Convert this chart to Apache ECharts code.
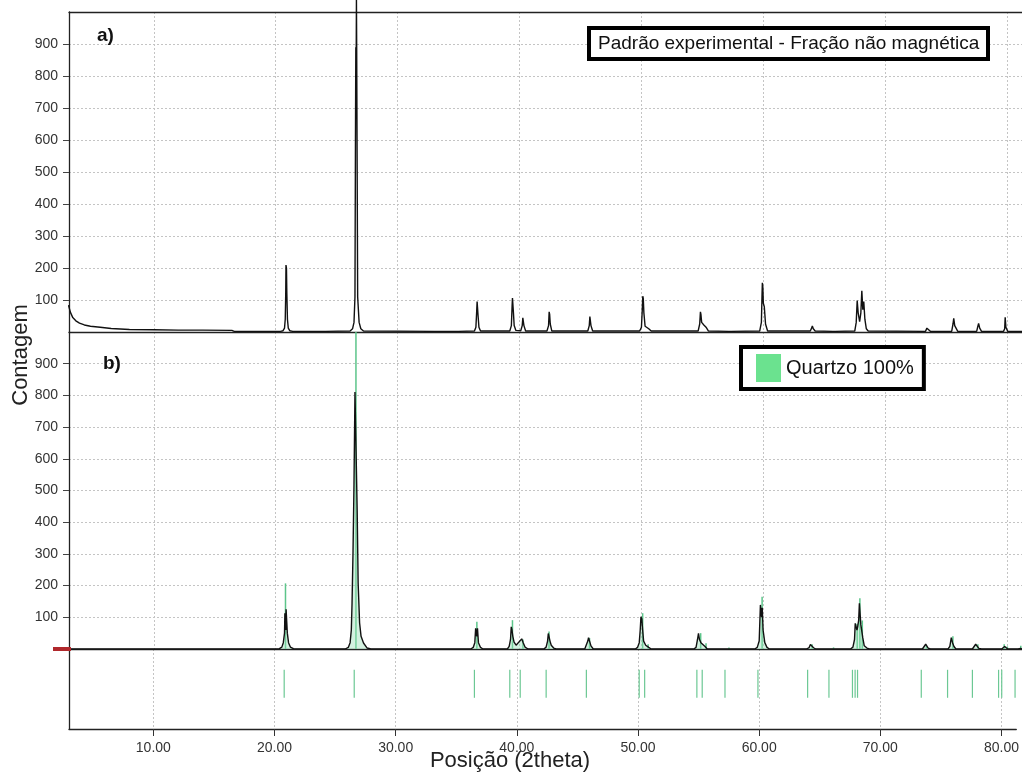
<!DOCTYPE html>
<html>
<head>
<meta charset="utf-8">
<script src="https://cdn.jsdelivr.net/npm/echarts@6/dist/echarts.min.js"></script>
<style>
  html, body { margin: 0; padding: 0; background: #fff; }
  #chart { width: 1022px; height: 772px; }
</style>
</head>
<body>
<div id="chart"></div>
<script>
// 2theta range and tick values
const xMin = 3.04;
const xMax = 81.22;
const xTicks = [10, 20, 30, 40, 50, 60, 70, 80];
const yTicks = [100, 200, 300, 400, 500, 600, 700, 800, 900];

// a) measured pattern, [2theta, counts]
const patternA = [
  [3.0, 84], [3.15, 62], [3.35, 45], [3.6, 35], [3.9, 28], [4.3, 22], [4.8, 18], [5.6, 15], [6.5, 11], [8.0, 8],
  [10.0, 7], [12.0, 6], [14.0, 6], [16.4, 5], [16.6, 2], [18.0, 2], [20.4, 2],
  [20.6, 4], [20.72, 12], [20.78, 40], [20.82, 120], [20.84, 209], [20.88, 200], [20.91, 120], [20.96, 40], [21.03, 12], [21.15, 4], [21.4, 2],
  [23.9, 2], [24.0, 6], [24.1, 2],
  [26.1, 3], [26.3, 10], [26.42, 30], [26.5, 110], [26.54, 600], [26.57, 890], [26.6, 850], [26.62, 1040], [26.64, 890], [26.67, 600], [26.72, 110], [26.84, 30], [26.98, 10], [27.2, 3],
  [33.0, 2], [35.0, 2],
  [36.3, 3], [36.42, 15], [36.48, 60], [36.52, 95], [36.56, 90], [36.6, 50], [36.67, 15], [36.8, 3],
  [39.2, 3], [39.33, 20], [39.39, 80], [39.42, 106], [39.46, 100], [39.5, 60], [39.56, 20], [39.7, 5],
  [40.1, 4], [40.22, 20], [40.27, 44], [40.31, 42], [40.36, 20], [40.5, 3],
  [42.25, 3], [42.38, 20], [42.43, 63], [42.47, 55], [42.52, 25], [42.65, 3],
  [45.6, 3], [45.72, 20], [45.77, 48], [45.81, 45], [45.86, 20], [46.0, 3],
  [49.85, 3], [50.0, 15], [50.07, 70], [50.11, 112], [50.15, 105], [50.2, 60], [50.3, 18], [50.6, 10], [50.8, 3],
  [54.65, 3], [54.78, 25], [54.84, 63], [54.88, 55], [54.94, 30], [55.12, 22], [55.3, 15], [55.5, 3],
  [57.15, 2], [57.24, 5], [57.35, 2],
  [59.7, 3], [59.84, 30], [59.89, 110], [59.92, 154], [59.96, 140], [60.0, 90], [60.08, 79], [60.18, 25], [60.35, 3],
  [63.85, 3], [63.96, 12], [64.02, 19], [64.1, 10], [64.25, 3],
  [65.7, 2], [65.8, 5], [65.9, 2],
  [67.5, 3], [67.62, 30], [67.7, 98], [67.78, 60], [67.9, 32], [68.0, 60], [68.08, 129], [68.16, 70], [68.24, 95], [68.33, 40], [68.45, 10], [68.6, 3],
  [73.3, 2], [73.42, 12], [73.48, 17], [73.56, 8], [73.7, 2],
  [75.45, 2], [75.56, 25], [75.62, 43], [75.7, 20], [75.8, 15], [75.95, 2],
  [77.5, 2], [77.6, 18], [77.66, 27], [77.75, 12], [77.9, 2],
  [79.7, 2], [79.8, 10], [79.84, 46], [79.9, 15], [80.05, 2], [81.22, 2]
];

// b) processed pattern, [2theta, counts]
const patternB = [
  [3.0, 0], [20.1, 0],
  [20.3, 1], [20.5, 6], [20.62, 20], [20.72, 50], [20.75, 113], [20.79, 113], [20.82, 60], [20.85, 125], [20.89, 125], [20.95, 50], [21.05, 20], [21.2, 6], [21.45, 1], [21.6, 0],
  [25.7, 0], [25.95, 5], [26.1, 20], [26.2, 60], [26.26, 144], [26.34, 307], [26.42, 520], [26.5, 811], [26.62, 811], [26.68, 438], [26.76, 208], [26.88, 82], [27.0, 40], [27.2, 19], [27.5, 3], [27.8, 0],
  [36.0, 0], [36.2, 5], [36.33, 20], [36.4, 65], [36.46, 65], [36.5, 40], [36.55, 65], [36.63, 20], [36.8, 5], [37.0, 0],
  [39.0, 0], [39.15, 8], [39.26, 30], [39.32, 70], [39.38, 60], [39.45, 40], [39.55, 22], [39.72, 12], [39.9, 20], [40.02, 25], [40.18, 32], [40.3, 20], [40.45, 6], [40.7, 0],
  [42.0, 0], [42.18, 6], [42.3, 25], [42.36, 49], [42.44, 49], [42.5, 25], [42.6, 12], [42.8, 3], [43.0, 0],
  [45.35, 0], [45.5, 6], [45.6, 25], [45.66, 36], [45.76, 36], [45.86, 10], [46.05, 0],
  [49.5, 0], [49.68, 5], [49.82, 20], [49.9, 60], [49.96, 102], [50.03, 95], [50.1, 60], [50.18, 25], [50.35, 12], [50.6, 5], [50.8, 0],
  [54.3, 0], [54.48, 5], [54.6, 30], [54.68, 49], [54.76, 30], [54.88, 20], [55.02, 15], [55.22, 8], [55.4, 0],
  [59.3, 0], [59.5, 5], [59.66, 25], [59.76, 139], [59.82, 139], [59.86, 100], [59.91, 130], [59.98, 60], [60.12, 20], [60.3, 5], [60.5, 0],
  [63.55, 0], [63.75, 4], [63.86, 14], [63.94, 18], [64.02, 12], [64.12, 4], [64.3, 0],
  [67.15, 0], [67.35, 6], [67.48, 30], [67.54, 81], [67.62, 81], [67.68, 60], [67.74, 70], [67.82, 90], [67.88, 144], [67.96, 144], [68.0, 76], [68.08, 76], [68.16, 35], [68.28, 10], [68.5, 3], [68.7, 0],
  [73.05, 0], [73.2, 6], [73.32, 15], [73.42, 12], [73.52, 3], [73.7, 0],
  [75.15, 0], [75.3, 8], [75.42, 36], [75.52, 20], [75.64, 8], [75.8, 0],
  [77.15, 0], [77.3, 5], [77.42, 15], [77.52, 10], [77.68, 2], [77.9, 0],
  [79.55, 0], [79.7, 6], [79.8, 8], [79.9, 3], [80.05, 0], [80.9, 0], [81.0, 6], [81.1, 2], [81.22, 0]
];

// Quartz reference reflections: positions (2theta) and relative heights in panel b
const refPos = [20.8, 26.58, 36.5, 39.42, 40.28, 42.42, 45.74, 50.1, 50.55, 54.86, 55.3, 57.18, 59.9, 64.0, 65.76, 67.7, 67.92, 68.12, 73.38, 75.55, 77.6, 79.76, 80.02, 81.12];
const refInt = [207, 1040, 86, 91, 30, 55, 35, 113, 15, 50, 18, 5, 165, 15, 5, 80, 160, 90, 10, 40, 15, 15, 8, 10];

const FONT = 'Liberation Sans, Arial, sans-serif';
const GREEN = '#5cc58a';
const AXIS_COLOR = '#222';

const refSticks = refPos.map((p, i) => [p, refInt[i]]);
const refMarkers = refPos.map(p => [p]);

const gridLine = { show: true, lineStyle: { color: '#c4c4c4', type: [2, 2], width: 1 } };

function xAxisBase(gridIndex, position) {
  return {
    type: 'value', gridIndex, position, min: xMin, max: xMax,
    axisLine: { show: true, onZero: false, lineStyle: { color: AXIS_COLOR, width: 1.3 } },
    axisTick: { show: false, customValues: xTicks },
    axisLabel: { show: false, customValues: xTicks },
    splitLine: { show: false }
  };
}

function yAxisCounts(gridIndex) {
  return {
    type: 'value', gridIndex, min: 0, max: 1000,
    axisLine: { show: true, lineStyle: { color: AXIS_COLOR, width: 1.3 } },
    axisTick: { show: true, length: 6, customValues: yTicks, lineStyle: { color: '#444' } },
    axisLabel: { show: true, customValues: yTicks, color: '#333', fontSize: 14, fontFamily: FONT, margin: 11 },
    splitLine: gridLine
  };
}

const chart = echarts.init(document.getElementById('chart'), null, { renderer: 'canvas' });

const xa0 = xAxisBase(0, 'bottom'); xa0.splitLine = gridLine;
const xa1 = xAxisBase(0, 'top');
const xa2 = xAxisBase(1, 'bottom'); xa2.splitLine = gridLine;
const xa3 = xAxisBase(2, 'bottom');
xa3.splitLine = gridLine;
xa3.axisTick = { show: true, length: 7, customValues: xTicks, lineStyle: { color: '#333' } };
xa3.axisLabel = {
  show: true, customValues: xTicks, color: '#333', fontSize: 14, fontFamily: FONT, margin: 12,
  formatter: v => v.toFixed(2)
};

chart.setOption({
  animation: false,
  backgroundColor: '#fff',
  title: [
    {
      text: 'Padrão experimental - Fração não magnética',
      left: 589, top: 28,
      padding: [6, 9, 6, 9],
      borderColor: '#000', borderWidth: 4, backgroundColor: '#fff',
      textStyle: { fontSize: 19, fontWeight: 'normal', color: '#111', fontFamily: FONT }
    },
    { text: 'a)', left: 97, top: 26, padding: 0, textStyle: { fontSize: 19, fontWeight: 'bold', color: '#111', fontFamily: FONT } },
    { text: 'b)', left: 103, top: 354, padding: 0, textStyle: { fontSize: 19, fontWeight: 'bold', color: '#111', fontFamily: FONT } }
  ],
  legend: {
    left: 741, top: 347,
    orient: 'horizontal',
    padding: [7, 10, 7, 15],
    borderColor: '#000', borderWidth: 4, backgroundColor: '#fff',
    itemWidth: 25, itemHeight: 28,
    selectedMode: false,
    textStyle: { fontSize: 20, color: '#111', fontFamily: FONT },
    data: [{ name: 'Quartzo 100%', icon: 'rect', itemStyle: { color: '#6be28f' } }]
  },
  grid: [
    { left: 69, top: 12, right: 0, height: 320 },
    { left: 69, top: 332, right: 0, height: 317 },
    { left: 69, top: 649, right: 0, height: 80 }
  ],
  xAxis: [xa0, xa1, xa2, xa3],
  yAxis: [
    yAxisCounts(0),
    yAxisCounts(1),
    {
      type: 'value', gridIndex: 2, min: 0, max: 1,
      axisLine: { show: true, lineStyle: { color: AXIS_COLOR, width: 1.3 } },
      axisTick: { show: false }, axisLabel: { show: false }, splitLine: { show: false }
    }
  ],
  series: [
    {
      name: 'a', type: 'line', xAxisIndex: 0, yAxisIndex: 0,
      data: patternA, showSymbol: false, clip: false, z: 4,
      lineStyle: { color: '#111', width: 1.4 }
    },
    {
      name: 'Quartzo 100%', type: 'custom', xAxisIndex: 2, yAxisIndex: 1,
      data: refSticks, z: 3,
      renderItem: (params, api) => {
        const x = api.value(0);
        const p0 = api.coord([x, 0]);
        const p1 = api.coord([x, Math.min(api.value(1), 1000)]);
        return { type: 'line', shape: { x1: p0[0], y1: p0[1], x2: p1[0], y2: p1[1] }, style: { stroke: GREEN, lineWidth: 1.5 } };
      }
    },
    {
      name: 'b', type: 'line', xAxisIndex: 2, yAxisIndex: 1,
      data: patternB, showSymbol: false, z: 4,
      lineStyle: { color: '#111', width: 1.4 },
      areaStyle: { color: 'rgba(150,222,180,0.6)' }
    },
    {
      name: 'ref', type: 'custom', xAxisIndex: 3, yAxisIndex: 2,
      data: refMarkers, z: 3,
      renderItem: (params, api) => {
        const x = api.value(0);
        const p0 = api.coord([x, 0.39]);
        const p1 = api.coord([x, 0.74]);
        return { type: 'line', shape: { x1: p0[0], y1: p0[1], x2: p1[0], y2: p1[1] }, style: { stroke: '#6cc894', lineWidth: 1.2 } };
      }
    }
  ]
});

// axis titles and the zero-level marker of panel b
const zero = chart.convertToPixel({ gridIndex: 1 }, [xMin, 0]);
chart.setOption({
  graphic: [
    {
      type: 'text', x: 21, y: 355, rotation: Math.PI / 2,
      style: { text: 'Contagem', fontSize: 22, fontFamily: FONT, fill: '#222', align: 'center', verticalAlign: 'middle' }
    },
    {
      type: 'text', x: 510, y: 761,
      style: { text: 'Posição (2theta)', fontSize: 22, fontFamily: FONT, fill: '#222', align: 'center', verticalAlign: 'middle' }
    },
    {
      type: 'rect', shape: { x: zero[0] - 16, y: zero[1] - 2, width: 18, height: 4 },
      style: { fill: '#b0282c' }, z: 10
    }
  ]
});
</script>
</body>
</html>
